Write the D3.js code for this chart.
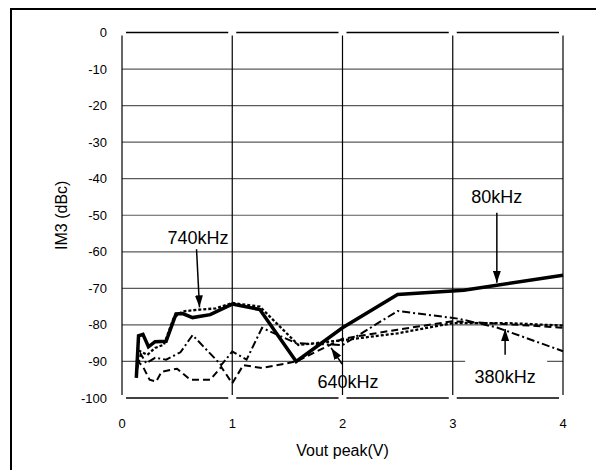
<!DOCTYPE html>
<html><head><meta charset="utf-8">
<script src="https://cdn.jsdelivr.net/npm/d3@7"></script>
<style>html,body{margin:0;padding:0;background:#fff;}svg{display:block;}</style>
</head><body>
<script>
// ---- data ----
const xTicks = [0, 1, 2, 3, 4];
const yTicks = [0, -10, -20, -30, -40, -50, -60, -70, -80, -90, -100];

const v80  = [0.13, 0.15, 0.19, 0.24, 0.3, 0.4, 0.49, 0.55, 0.64, 0.8, 1.0, 1.25, 1.58, 2.0, 2.5, 3.1, 4.0];
const im80 = [-94.5, -83, -82.6, -86, -84.6, -84.5, -77, -76.9, -78, -77.2, -74.3, -75.8, -90, -80.8, -71.7, -70.5, -66.4];

const v740  = [0.15, 0.23, 0.3, 0.38, 0.47, 0.55, 0.71, 0.85, 1.0, 1.25, 1.6, 2.0, 2.5, 3.0, 3.5, 4.0];
const im740 = [-87, -88.2, -86.3, -85.4, -78, -76.3, -75.8, -75.5, -74, -75, -85.5, -84.2, -82.3, -79.5, -79.5, -80.2];

const v640  = [0.13, 0.19, 0.25, 0.31, 0.36, 0.5, 0.62, 0.8, 0.9, 1.0, 1.1, 1.27, 1.58, 2.0, 2.5, 3.0, 3.5, 4.0];
const im640 = [-89.5, -91.4, -95, -95.5, -92.8, -92, -95, -95, -91.5, -96, -91, -91.8, -90, -83.8, -81.3, -79, -79.8, -80.8];

const v380  = [0.13, 0.17, 0.22, 0.3, 0.4, 0.53, 0.64, 0.9, 1.0, 1.13, 1.27, 1.58, 2.0, 2.5, 3.05, 3.4, 4.0];
const im380 = [-93, -88, -90.5, -89, -89.5, -87.5, -82.8, -91, -87.3, -89.5, -80.8, -85, -85.5, -76.2, -78.3, -80.7, -87.2];

const labelNames = ["740kHz", "80kHz", "640kHz", "380kHz"];
const labelV     = [0.69, 3.40, 2.05, 3.475];
const labelDb    = [-57.8, -46.6, -97.3, -95.9];
const arrowFromV  = [0.676, 3.40, 1.996, 3.475];
const arrowFromDb = [-59.3, -49.3, -90.7, -88.2];
const arrowToV    = [0.703, 3.40, 1.897, 3.475];
const arrowToDb   = [-75.2, -68.5, -86.3, -81.1];

// ---- drawing ----
const W = 596, H = 470;
const svg = d3.select("body").append("svg").attr("width", W).attr("height", H);
const font = "'Liberation Sans', Arial, sans-serif";

svg.append("rect").attr("x", 11).attr("y", 9).attr("width", 620).attr("height", 500)
  .attr("fill", "#fff").attr("stroke", "#000").attr("stroke-width", 2);

const x = d3.scaleLinear().domain([0, 4]).range([122, 563]);
const y = d3.scaleLinear().domain([-100, 0]).range([398, 32.5]);

const g = svg.append("g");

// horizontal gridlines
g.selectAll(".hg").data(yTicks.filter(t => t !== 0 && t !== -100)).enter().append("line")
  .attr("x1", x(0)).attr("x2", x(4)).attr("y1", d => y(d)).attr("y2", d => y(d))
  .attr("stroke", "#5a5a5a").attr("stroke-width", 1.2);

// top and bottom broken lines
const segs = [];
for (let i = 0; i < xTicks.length - 1; i++) {
  segs.push({a: xTicks[i], b: xTicks[i + 1], v: 0});
  segs.push({a: xTicks[i], b: xTicks[i + 1], v: -100});
}
g.selectAll(".seg").data(segs).enter().append("line")
  .attr("x1", d => x(d.a) + 4).attr("x2", d => x(d.b) - 4)
  .attr("y1", d => y(d.v)).attr("y2", d => y(d.v))
  .attr("stroke", "#000").attr("stroke-width", 1.4);

// vertical gridlines
g.selectAll(".vg").data(xTicks).enter().append("line")
  .attr("x1", d => x(d)).attr("x2", d => x(d))
  .attr("y1", y(0) + 3).attr("y2", y(-100) - 3)
  .attr("stroke", "#000").attr("stroke-width", 1.2);

// white box behind 380kHz label
g.append("rect").attr("x", x(3.475) - 40).attr("y", y(-88.5)).attr("width", 82)
  .attr("height", y(-97.5) - y(-88.5)).attr("fill", "#fff");

// tick labels
g.selectAll(".yl").data(yTicks).enter().append("text")
  .attr("x", 107).attr("y", d => y(d)).attr("dy", "0.35em")
  .attr("text-anchor", "end").attr("font-family", font).attr("font-size", 13)
  .text(d => d);
g.selectAll(".xl").data(xTicks).enter().append("text")
  .attr("x", d => x(d)).attr("y", 428)
  .attr("text-anchor", "middle").attr("font-family", font).attr("font-size", 13)
  .text(d => d);

// axis titles
svg.append("text").attr("x", (x(0) + x(4)) / 2).attr("y", 456)
  .attr("text-anchor", "middle").attr("font-family", font).attr("font-size", 16)
  .text("Vout peak(V)");
svg.append("text").attr("transform", `translate(67,${y(-50)}) rotate(-90)`)
  .attr("text-anchor", "middle").attr("font-family", font).attr("font-size", 16)
  .text("IM3 (dBc)");

// series
const line = d3.line().x(d => x(d[0])).y(d => y(d[1]));
const series = [
  {v: v640, m: im640, w: 2, dash: "7,4"},
  {v: v380, m: im380, w: 2, dash: "8,3,2,3"},
  {v: v740, m: im740, w: 2.3, dash: "3,2"},
  {v: v80, m: im80, w: 3.5, dash: null}
];
series.forEach(s => {
  g.append("path").datum(d3.zip(s.v, s.m)).attr("d", line)
    .attr("fill", "none").attr("stroke", "#000").attr("stroke-width", s.w)
    .attr("stroke-linejoin", "miter")
    .attr("stroke-dasharray", s.dash);
});

// annotations
svg.append("defs").append("marker").attr("id", "ah")
  .attr("viewBox", "0 0 12 8").attr("refX", 12).attr("refY", 4)
  .attr("markerWidth", 12).attr("markerHeight", 8).attr("markerUnits", "userSpaceOnUse")
  .attr("orient", "auto")
  .append("path").attr("d", "M0,0 L12,4 L0,8 Z").attr("fill", "#000");

labelNames.forEach((n, i) => {
  g.append("line")
    .attr("x1", x(arrowFromV[i])).attr("y1", y(arrowFromDb[i]))
    .attr("x2", x(arrowToV[i])).attr("y2", y(arrowToDb[i]))
    .attr("stroke", "#000").attr("stroke-width", 1.5).attr("marker-end", "url(#ah)");
  g.append("text").attr("x", x(labelV[i])).attr("y", y(labelDb[i]))
    .attr("text-anchor", "middle").attr("font-family", font).attr("font-size", 18)
    .text(n);
});
</script>
</body></html>
